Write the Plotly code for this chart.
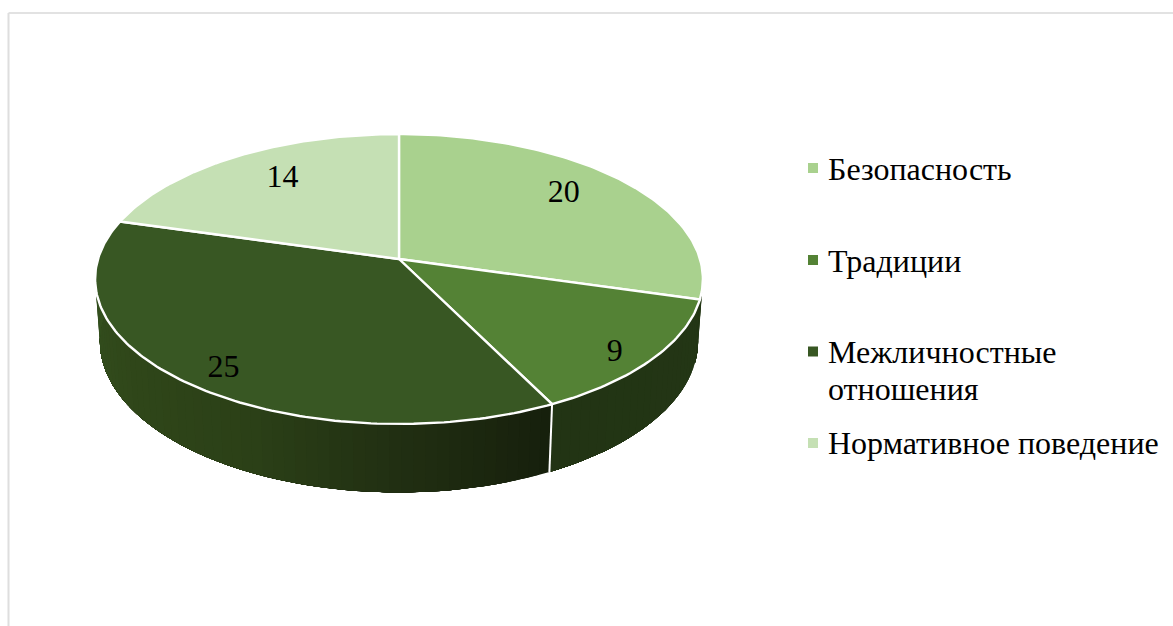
import math
import plotly.graph_objects as go

# ---- data ----
categories = ["Безопасность", "Традиции", "Межличностные<br>отношения", "Нормативное поведение"]
values = [20, 9, 25, 14]

# ---- style ----
top_colors = ["#A9D18E", "#548235", "#385723", "#C5E0B4"]
wall_stops = [
    [(0.0, "#233615"), (1.0, "#233615")],
    [(0.0, "#233615"), (1.0, "#223414")],
    [(0.0, "#161f0c"), (0.2, "#212f12"), (0.39, "#2b4017"), (0.6, "#2f4619"), (0.88, "#34501f"), (1.0, "#34501f")],
    [(0.0, "#34501f"), (1.0, "#34501f")],
]
label_radius = [0.772, 0.886, 0.867, 0.754]
label_shift = [-3.6, 2.3, -2.2, 3.2]
label_dy = 2
legend_y = [168, 260, 351.5, 443]
legend_text_y = [169, 261, 352, 443]
legend_line_gap = 37
FONT = "Liberation Serif"

# ---- perspective of the disc, in page pixels ----
CX, CY, R, S, K, M, T = 399, 259, 301, 142.2, 0.138, 0.0157, 62.7


def project(angle_deg, r=1.0, h=0.0):
    a = math.radians(angle_deg)
    u, v = r * math.sin(a), r * math.cos(a)
    w = 1 + K * v + M * h
    return CX + R * u / w, CY + (-S * v + T * h) / w


def hex_mix(c1, c2, t):
    p = [int(c1[i:i + 2], 16) for i in (1, 3, 5)]
    q = [int(c2[i:i + 2], 16) for i in (1, 3, 5)]
    return "#%02x%02x%02x" % tuple(round(a + (b - a) * t) for a, b in zip(p, q))


def stop_color(stops, t):
    for (t0, c0), (t1, c1) in zip(stops, stops[1:]):
        if t <= t1:
            return hex_mix(c0, c1, (t - t0) / (t1 - t0))
    return stops[-1][1]


total = sum(values)
bounds = [0.0]
for val in values:
    bounds.append(bounds[-1] + val / total * 360)

fig = go.Figure()

# side wall: overlapping bands, each reaching to the end of its slice, so no seams show
STEP = 2.0
for i in range(len(values)):
    a0, a1 = bounds[i], bounds[i + 1]
    n = max(1, round((a1 - a0) / STEP))
    for j in range(n):
        s0 = a0 + (a1 - a0) * j / n
        s1 = a0 + (a1 - a0) * (j + 1) / n
        if not 70 <= (s0 + s1) / 2 <= 292:
            continue
        col = stop_color(wall_stops[i], (j + 0.5) / n)
        m = max(2, int((a1 - s0) / STEP) + 1)
        angles = [s0 + (a1 - s0) * q / m for q in range(m + 1)]
        upper = [project(a, 1, 0) for a in angles]
        lower = [project(a, 1, 1) for a in reversed(angles)]
        pts = upper + lower + upper[:1]
        fig.add_trace(go.Scatter(x=[p[0] for p in pts], y=[p[1] for p in pts], mode="lines",
                                 fill="toself", fillcolor=col, line=dict(color=col, width=0),
                                 hoverinfo="skip", showlegend=False))

# white seam on the wall at the visible slice boundary
b = bounds[2]
p0, p1 = project(b, 1, 0), project(b, 1, 1)
fig.add_trace(go.Scatter(x=[p0[0], p1[0]], y=[p0[1], p1[1]], mode="lines",
                         line=dict(color="white", width=2), hoverinfo="skip", showlegend=False))

# top face
for i in range(len(values)):
    a0, a1 = bounds[i], bounds[i + 1]
    n = max(8, int(a1 - a0))
    arc = [project(a0 + (a1 - a0) * j / n) for j in range(n + 1)]
    xs = [CX] + [p[0] for p in arc] + [CX]
    ys = [CY] + [p[1] for p in arc] + [CY]
    fig.add_trace(go.Scatter(x=xs, y=ys, mode="lines", fill="toself", fillcolor=top_colors[i],
                             line=dict(color="white", width=2.4), name=categories[i].replace("<br>", " "),
                             hoverinfo="name", showlegend=False))

# value labels
lx, ly = [], []
for i in range(len(values)):
    mid = (bounds[i] + bounds[i + 1]) / 2 + label_shift[i]
    p = project(mid, label_radius[i])
    lx.append(p[0])
    ly.append(p[1] + label_dy)
fig.add_trace(go.Scatter(x=lx, y=ly, mode="text", text=[str(v) for v in values],
                         textposition="middle center", textfont=dict(family=FONT, size=32, color="black"),
                         hoverinfo="skip", showlegend=False))

# legend
fig.add_trace(go.Scatter(x=[813] * 4, y=legend_y, mode="markers",
                         marker=dict(symbol="square", size=10, color=top_colors, line=dict(width=0)),
                         hoverinfo="skip", showlegend=False))
for name, y in zip(categories, legend_text_y):
    for k, line in enumerate(name.split("<br>")):
        fig.add_annotation(x=826, y=y + k * legend_line_gap, text=line, showarrow=False, xanchor="left",
                           yanchor="middle", align="left", xref="x", yref="y",
                           font=dict(family=FONT, size=32, color="black"))

# chart frame (top and left edges are visible)
fig.add_shape(type="line", x0=8.5, x1=1173, y0=13, y1=13, line=dict(color="#d9d9d9", width=1.5), layer="below")
fig.add_shape(type="line", x0=8.5, x1=8.5, y0=13, y1=626, line=dict(color="#dedede", width=2), layer="below")

fig.update_layout(
    width=1173, height=626, margin=dict(l=0, r=0, t=0, b=0),
    paper_bgcolor="white", plot_bgcolor="white", showlegend=False,
    xaxis=dict(range=[0, 1173], visible=False, fixedrange=True),
    yaxis=dict(range=[626, 0], visible=False, fixedrange=True),
)
fig.write_html("out.html", config={"displayModeBar": False},
               post_script="document.body.style.margin='0';document.body.style.overflow='hidden';")
